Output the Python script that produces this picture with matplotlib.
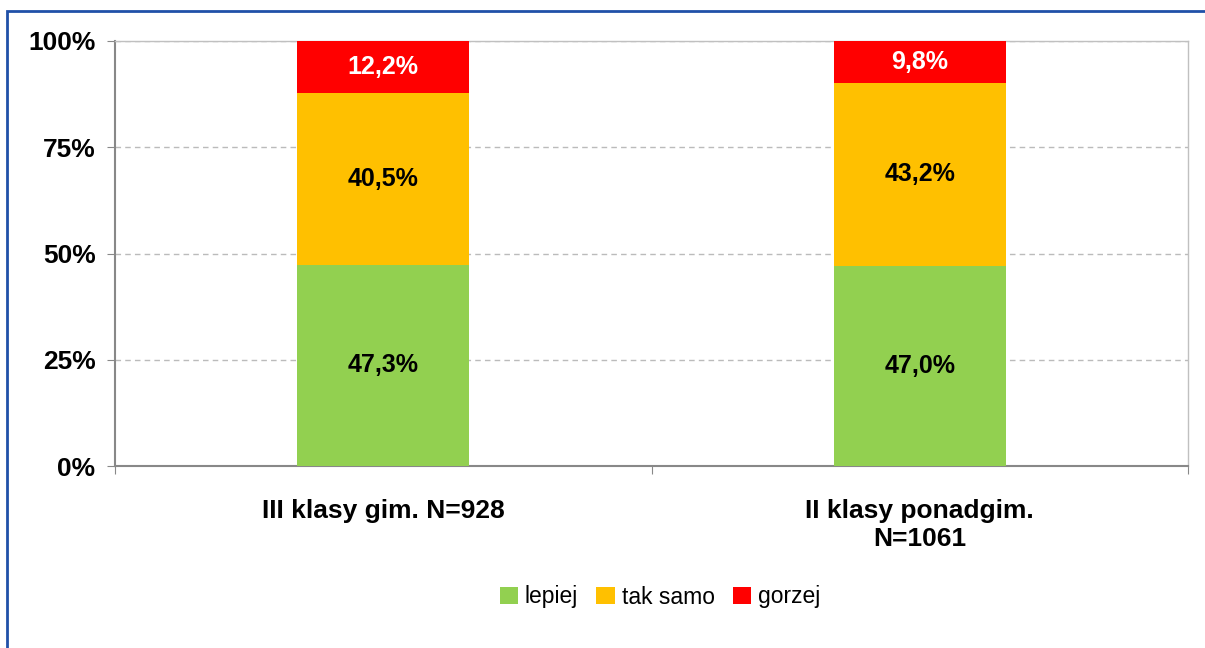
import matplotlib.pyplot as plt
import numpy as np
from matplotlib.patches import Rectangle

plt.rcParams['font.family'] = ['Liberation Sans', 'DejaVu Sans']

# data
categories = ['III klasy gim. N=928', 'II klasy ponadgim.\nN=1061']
series = ['lepiej', 'tak samo', 'gorzej']
lepiej = [47.3, 47.0]
tak_samo = [40.5, 43.2]
gorzej = [12.2, 9.8]
colors = ['#92D050', '#FFC000', '#FF0000']
label_colors = ['black', 'black', 'white']

fig = plt.figure(figsize=(12.05, 6.48), dpi=100)
ax = fig.add_axes([115/1205, 1-466/648, (1188-115)/1205, (466-41)/648])

# blue frame round the chart
fig.patches.append(Rectangle((7/1205, -0.1), 1.2, 1-11/648+0.1, transform=fig.transFigure,
                             fill=False, edgecolor='#2050A8', linewidth=2))

x = np.arange(len(categories))
bottom = np.zeros(len(categories))
for name, vals, c, lc in zip(series, [lepiej, tak_samo, gorzej], colors, label_colors):
    vals = np.array(vals)
    ax.bar(x, vals, 0.32, bottom=bottom, color=c, label=name, zorder=3)
    for xi, b, v in zip(x, bottom, vals):
        ax.text(xi, b + v/2, f'{v:.1f}%'.replace('.', ','), ha='center', va='center',
                fontsize=18, fontweight='bold', color=lc, zorder=4)
    bottom += vals

ax.set_xlim(-0.5, 1.5)
ax.set_ylim(0, 100)
ax.set_yticks([0, 25, 50, 75, 100])
ax.set_yticklabels(['0%', '25%', '50%', '75%', '100%'], fontsize=19, fontweight='bold')
ax.set_xticks([-0.5, 0.5, 1.5])
ax.set_xticklabels([])
ax.set_xticks(x, minor=True)
ax.set_xticklabels(categories, minor=True, fontsize=19, fontweight='bold')
ax.tick_params(axis='x', which='minor', length=0, pad=24)
ax.tick_params(axis='x', which='major', length=6, color='#888888', direction='out')
ax.tick_params(axis='y', length=6, color='#888888', direction='out', pad=8)

ax.yaxis.grid(True, linestyle=(0, (4, 3)), color='#BBBBBB', linewidth=1, zorder=0)
for s in ['left', 'bottom']:
    ax.spines[s].set_color('#888888')
    ax.spines[s].set_linewidth(1.5)
for s in ['right', 'top']:
    ax.spines[s].set_color('#C0C0C0')
    ax.spines[s].set_linewidth(1)

ax.legend(loc='center', bbox_to_anchor=(660/1205, 1-597/648), bbox_transform=fig.transFigure,
          ncol=3, frameon=False, fontsize=16.5, handlelength=0.8, handleheight=0.8,
          handletextpad=0.3, columnspacing=0.8)

fig.savefig('out.png', dpi=100)
